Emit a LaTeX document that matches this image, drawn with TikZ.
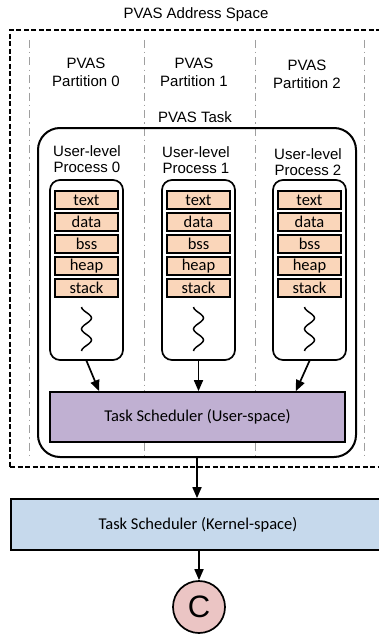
\documentclass[tikz,border=0pt]{standalone}
\usepackage{fontspec}
\setmainfont{Carlito}
\newfontfamily\gothfont{Liberation Sans}
\usepackage{xcolor}
\usepackage{tikz}
\usetikzlibrary{arrows.meta,positioning,calc}

\definecolor{segFill}{HTML}{FAD6BA}
\definecolor{userFill}{HTML}{C0B0D2}
\definecolor{kernelFill}{HTML}{C6D9EC}
\definecolor{cpuFill}{HTML}{EBC5C4}

\begin{document}
\begin{tikzpicture}[
    x=1pt, y=-1pt,
    font=\fontsize{16.5}{19}\selectfont,
    labelText/.style={
        font=\gothfont\fontsize{15}{18}\selectfont, align=center, inner sep=0pt
    },
    spaceBox/.style={
        rectangle, draw, line width=1.7pt, dash pattern=on 5pt off 2.5pt,
        minimum width=372pt, minimum height=437pt, inner sep=0pt
    },
    partLine/.style={
        draw=gray!75, line width=1pt, dash pattern=on 8pt off 4pt on 1.5pt off 4pt
    },
    taskBox/.style={
        rectangle, rounded corners=22pt, draw, line width=2pt,
        minimum width=318pt, minimum height=329pt, inner sep=0pt
    },
    procBox/.style={
        rectangle, rounded corners=10pt, draw, fill=white, line width=1.7pt,
        minimum width=73pt, minimum height=180pt, inner sep=0pt
    },
    segNode/.style={
        rectangle, draw, line width=1.9pt, fill=segFill,
        minimum width=63pt, minimum height=18pt, inner sep=0pt
    },
    schedNode/.style={
        rectangle, draw, line width=1.7pt, minimum height=50pt, inner sep=0pt
    },
    cpuNode/.style={
        circle, draw, line width=1.7pt, fill=cpuFill, minimum size=52pt, inner sep=0pt,
        font=\gothfont\fontsize{31}{31}\selectfont
    },
    threadLine/.style={line width=1.5pt},
    flowArrow/.style={
        -{Triangle[length=11pt, width=9pt]}, line width=1.7pt
    }
]
\useasboundingbox (0,0) rectangle (379,634);

% Address space and its partitions
\node[labelText] (title) at (196,15) {PVAS Address Space};
\node[spaceBox] (space) at (196,248.5) {};
\draw[partLine] (29,40) -- (29,458);
\draw[partLine] (144,40) -- (144,458);
\draw[partLine] (255,40) -- (255,458);
\draw[partLine] (364,40) -- (364,458);

\node[labelText] (part0) at (86,72.5) {PVAS\\Partition 0};
\node[labelText] (part1) at (194,72.5) {PVAS\\Partition 1};
\node[labelText] (part2) at (307,74.5) {PVAS\\Partition 2};

% PVAS task
\node[labelText] (taskLabel) at (195,117) {PVAS Task};
\node[taskBox] (task) at (197,292.5) {};

% Process 0
\node[labelText] (label0) at (87,159.5) {User-level\\[-2pt]Process 0};
\node[procBox] (proc0) at (86.5,270) {};
\node[segNode, below=11pt of proc0.north] (text0) {text};
\node[segNode, below=2pt of text0] (data0) {data};
\node[segNode, below=2pt of data0] (bss0) {bss};
\node[segNode, below=2pt of bss0] (heap0) {heap};
\node[segNode, below=2pt of heap0] (stack0) {stack};
\draw[threadLine, shift={(proc0.center)}] plot[smooth, domain=0:2, samples=25, variable=\t]
    ({-5*cos(360*\t)}, {37+22*\t});

% Process 1
\node[labelText] (label1) at (196,160) {User-level\\[-2pt]Process 1};
\node[procBox] (proc1) at (198.5,270) {};
\node[segNode, below=11pt of proc1.north] (text1) {text};
\node[segNode, below=2pt of text1] (data1) {data};
\node[segNode, below=2pt of data1] (bss1) {bss};
\node[segNode, below=2pt of bss1] (heap1) {heap};
\node[segNode, below=2pt of heap1] (stack1) {stack};
\draw[threadLine, shift={(proc1.center)}] plot[smooth, domain=0:2, samples=25, variable=\t]
    ({-5*cos(360*\t)}, {37+22*\t});

% Process 2
\node[labelText] (label2) at (308,162) {User-level\\[-2pt]Process 2};
\node[procBox] (proc2) at (309.5,270) {};
\node[segNode, below=11pt of proc2.north] (text2) {text};
\node[segNode, below=2pt of text2] (data2) {data};
\node[segNode, below=2pt of data2] (bss2) {bss};
\node[segNode, below=2pt of bss2] (heap2) {heap};
\node[segNode, below=2pt of heap2] (stack2) {stack};
\draw[threadLine, shift={(proc2.center)}] plot[smooth, domain=0:2, samples=25, variable=\t]
    ({-5*cos(360*\t)}, {37+22*\t});

% Schedulers
\node[schedNode, fill=userFill, minimum width=295pt] (userSched) at (197.5,417) {Task Scheduler (User-space)};
\node[schedNode, fill=kernelFill, minimum width=374pt, minimum height=51pt] (kernelSched) at (198,524.5) {Task Scheduler (Kernel-space)};
\node[cpuNode] (cpu) at (199,607) {C};

% Flows
\draw[flowArrow] (proc0.south) -- ($(userSched.north west)+(50,0)$);
\draw[flowArrow] (proc1.south) -- (proc1.south |- userSched.north);
\draw[flowArrow] (proc2.south) -- ($(userSched.north east)+(-50,0)$);
\draw[flowArrow] (task.south) -- (task.south |- kernelSched.north);
\draw[flowArrow] (kernelSched.south -| cpu.north) -- (cpu.north);

\end{tikzpicture}
\end{document}
